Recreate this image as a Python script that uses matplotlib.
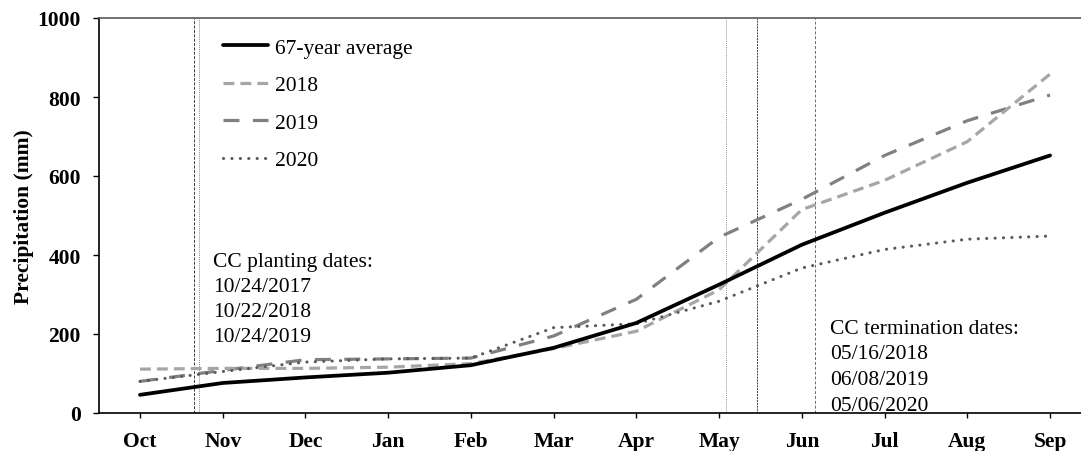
import matplotlib
matplotlib.use("Agg")
import matplotlib.pyplot as plt

# Cumulative monthly precipitation (mm), October to September
months = ["Oct", "Nov", "Dec", "Jan", "Feb", "Mar", "Apr", "May", "Jun", "Jul", "Aug", "Sep"]
avg_67yr = [46, 76, 90, 102, 121, 165, 228, 325, 426, 507, 583, 652]
p2018 = [111, 113, 113, 116, 125, 163, 207, 312, 515, 589, 687, 858]
p2019 = [80, 108, 135, 137, 139, 195, 288, 445, 541, 652, 740, 805]
p2020 = [80, 105, 129, 137, 139, 216, 226, 283, 367, 414, 440, 448]

yticks = [0, 200, 400, 600, 800, 1000]

# Cover-crop planting / termination dates and their positions on the month axis
planting_dates = ["10/24/2017", "10/22/2018", "10/24/2019"]
termination_dates = ["05/16/2018", "06/08/2019", "05/06/2020"]
planting_pos = [0.655, 0.715]
termination_pos = [7.08, 7.46, 8.16]

plt.rcParams["font.family"] = ["Liberation Serif", "DejaVu Serif"]
FS = 15.5

fig = plt.figure(figsize=(10.81, 4.52), dpi=100)
ax = fig.add_axes([98.6 / 1081, 38 / 452, (1081 - 98.6) / 1081, 395 / 452])

x = list(range(len(months)))

# date marker lines
ax.axvline(planting_pos[0], color="#3a3a3a", lw=0.7, ls=(0, (3, 1.5)))
ax.axvline(planting_pos[1], color="#8a8a8a", lw=0.7, ls=(0, (1, 1)))
ax.axvline(termination_pos[0], color="#9a9a9a", lw=0.7, ls=(0, (1, 1)))
ax.axvline(termination_pos[1], color="#3a3a3a", lw=0.7, ls=(0, (2, 1)))
ax.axvline(termination_pos[2], color="#6a6a6a", lw=0.7, ls=(0, (3, 2)))

ax.plot(x, avg_67yr, color="black", lw=2.7, solid_capstyle="round",
        label="67-year average", zorder=5)
ax.plot(x, p2018, color="#a6a6a6", lw=2.3, ls=(0, (3.4, 1.9)),
        label="2018", zorder=4)
ax.plot(x, p2019, color="#808080", lw=2.3, ls=(0, (5, 4.2)),
        label="2019", zorder=3)
ax.plot(x, p2020, color="#595959", lw=2.2, ls=(0, (0.05, 2.7)),
        dash_capstyle="round", label="2020", zorder=4)

ax.set_xlim(-0.5, 11.374)
ax.set_ylim(0, 1000)
ax.set_xticks(x)
ax.set_xticklabels(months, fontsize=FS, fontweight="bold")
ax.set_yticks(yticks)
ax.set_yticklabels([str(v) for v in yticks], fontsize=FS, fontweight="bold")
ax.tick_params(axis="y", direction="out", length=4.5, width=1, pad=8.2)
ax.tick_params(axis="x", direction="out", length=3.6, width=1, pad=9.5)

ax.spines["right"].set_visible(False)
ax.spines["top"].set_color("#595959")
for s in ["left", "bottom", "top"]:
    ax.spines[s].set_linewidth(1.2)

ax.set_ylabel("Precipitation (mm)", fontsize=FS, fontweight="bold")
ax.yaxis.set_label_coords(-0.066, 0.5)

ax.legend(loc="upper left", bbox_to_anchor=((223 - 98.6) / 982.4, (414 - 38.5) / 395),
          frameon=False, fontsize=FS, handlelength=2.1, handletextpad=0.3,
          labelspacing=0.81, borderpad=0, borderaxespad=0)

# annotation blocks, one baseline per line
planting_lines = ["CC planting dates:"] + planting_dates
for i, line in enumerate(planting_lines):
    ax.text(0.883, 372 - 63.5 * i, line, fontsize=FS, ha="left", va="baseline")

termination_lines = ["CC termination dates:"] + termination_dates
for i, line in enumerate(termination_lines):
    ax.text(8.34, 203 - 65 * i, line, fontsize=FS, ha="left", va="baseline")

fig.savefig("out.png", dpi=100)
